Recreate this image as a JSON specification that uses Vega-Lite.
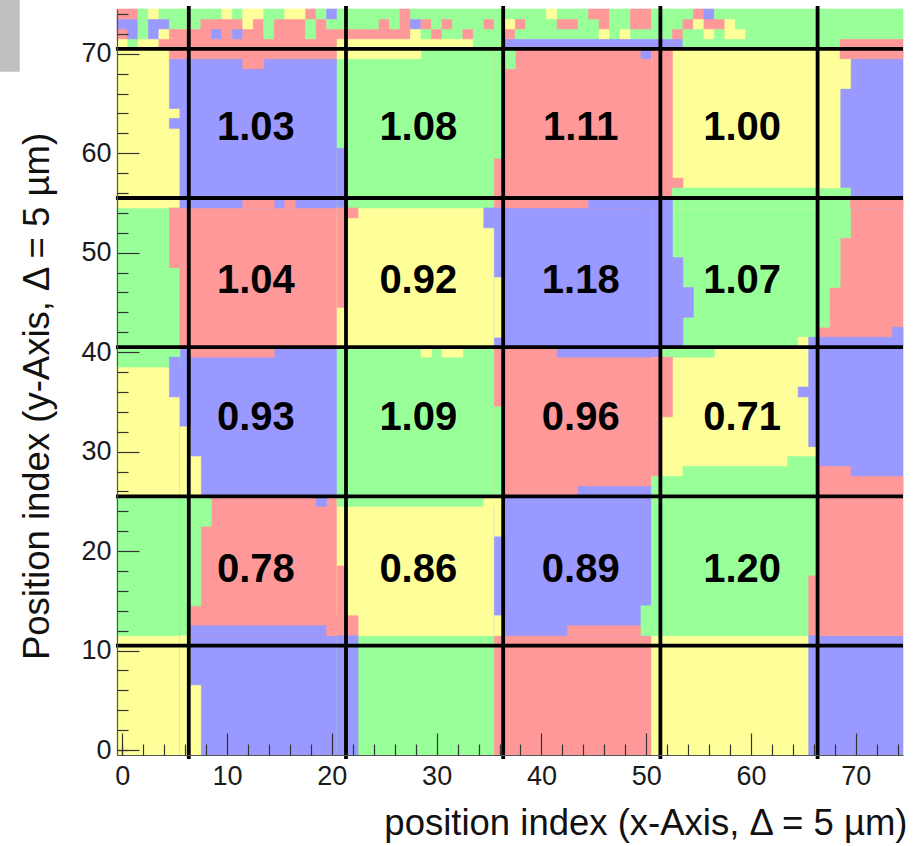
{
  "$schema": "https://vega.github.io/schema/vega-lite/v6.json",
  "width": 786,
  "height": 746,
  "autosize": {"type": "none"},
  "padding": {"left": 117, "top": 9, "right": 12, "bottom": 91},
  "background": "white",
  "config": {"view": {"stroke": null}},
  "datasets": {
    "cells": [
      {"x0": -0.5, "x1": 5.5, "y0": -0.5, "y1": 11.5, "c": "Y"},
      {"x0": 5.5, "x1": 20.5, "y0": -0.5, "y1": 11.5, "c": "B"},
      {"x0": 20.5, "x1": 35.5, "y0": -0.5, "y1": 11.5, "c": "G"},
      {"x0": 35.5, "x1": 50.5, "y0": -0.5, "y1": 11.5, "c": "R"},
      {"x0": 50.5, "x1": 66.5, "y0": -0.5, "y1": 11.5, "c": "Y"},
      {"x0": 66.5, "x1": 74.5, "y0": -0.5, "y1": 11.5, "c": "B"},
      {"x0": -0.5, "x1": 5.5, "y0": 11.5, "y1": 25.5, "c": "G"},
      {"x0": 5.5, "x1": 20.5, "y0": 11.5, "y1": 25.5, "c": "R"},
      {"x0": 20.5, "x1": 35.5, "y0": 11.5, "y1": 25.5, "c": "Y"},
      {"x0": 35.5, "x1": 50.5, "y0": 11.5, "y1": 25.5, "c": "B"},
      {"x0": 50.5, "x1": 66.5, "y0": 11.5, "y1": 25.5, "c": "G"},
      {"x0": 66.5, "x1": 74.5, "y0": 11.5, "y1": 25.5, "c": "R"},
      {"x0": -0.5, "x1": 5.5, "y0": 25.5, "y1": 40.5, "c": "Y"},
      {"x0": 5.5, "x1": 20.5, "y0": 25.5, "y1": 40.5, "c": "B"},
      {"x0": 20.5, "x1": 35.5, "y0": 25.5, "y1": 40.5, "c": "G"},
      {"x0": 35.5, "x1": 50.5, "y0": 25.5, "y1": 40.5, "c": "R"},
      {"x0": 50.5, "x1": 66.5, "y0": 25.5, "y1": 40.5, "c": "Y"},
      {"x0": 66.5, "x1": 74.5, "y0": 25.5, "y1": 40.5, "c": "B"},
      {"x0": -0.5, "x1": 5.5, "y0": 40.5, "y1": 54.5, "c": "G"},
      {"x0": 5.5, "x1": 20.5, "y0": 40.5, "y1": 54.5, "c": "R"},
      {"x0": 20.5, "x1": 35.5, "y0": 40.5, "y1": 54.5, "c": "Y"},
      {"x0": 35.5, "x1": 50.5, "y0": 40.5, "y1": 54.5, "c": "B"},
      {"x0": 50.5, "x1": 66.5, "y0": 40.5, "y1": 54.5, "c": "G"},
      {"x0": 66.5, "x1": 74.5, "y0": 40.5, "y1": 54.5, "c": "R"},
      {"x0": -0.5, "x1": 5.5, "y0": 54.5, "y1": 70.5, "c": "Y"},
      {"x0": 5.5, "x1": 20.5, "y0": 54.5, "y1": 70.5, "c": "B"},
      {"x0": 20.5, "x1": 35.5, "y0": 54.5, "y1": 70.5, "c": "G"},
      {"x0": 35.5, "x1": 50.5, "y0": 54.5, "y1": 70.5, "c": "R"},
      {"x0": 50.5, "x1": 66.5, "y0": 54.5, "y1": 70.5, "c": "Y"},
      {"x0": 66.5, "x1": 74.5, "y0": 54.5, "y1": 70.5, "c": "B"},

      {"x0": 4.5, "x1": 5.5, "y0": 64.5, "y1": 69.5, "c": "B"},
      {"x0": 4.5, "x1": 5.5, "y0": 62.5, "y1": 63.5, "c": "B"},
      {"x0": 4.5, "x1": 20.5, "y0": 69.5, "y1": 70.5, "c": "R"},
      {"x0": 11.5, "x1": 13.5, "y0": 68.5, "y1": 69.5, "c": "R"},
      {"x0": 11.5, "x1": 14.5, "y0": 54.5, "y1": 55.5, "c": "R"},
      {"x0": 15.5, "x1": 16.5, "y0": 54.5, "y1": 55.5, "c": "R"},
      {"x0": 20.5, "x1": 21.5, "y0": 54.5, "y1": 60.5, "c": "B"},
      {"x0": 20.5, "x1": 28.5, "y0": 69.5, "y1": 70.5, "c": "Y"},
      {"x0": 4.5, "x1": 5.5, "y0": 48.5, "y1": 54.5, "c": "R"},
      {"x0": 20.5, "x1": 21.5, "y0": 44.5, "y1": 54.5, "c": "R"},
      {"x0": 21.5, "x1": 22.5, "y0": 53.5, "y1": 54.5, "c": "R"},
      {"x0": -0.5, "x1": 5.5, "y0": 38.5, "y1": 40.5, "c": "G"},
      {"x0": 4.5, "x1": 5.5, "y0": 35.5, "y1": 39.5, "c": "B"},
      {"x0": 5.5, "x1": 6.5, "y0": 25.5, "y1": 32.5, "c": "Y"},
      {"x0": 6.5, "x1": 7.5, "y0": 25.5, "y1": 29.5, "c": "Y"},
      {"x0": 6.5, "x1": 14.5, "y0": 39.5, "y1": 40.5, "c": "R"},
      {"x0": 5.5, "x1": 6.5, "y0": 11.5, "y1": 25.5, "c": "G"},
      {"x0": 6.5, "x1": 7.5, "y0": 14.5, "y1": 25.5, "c": "G"},
      {"x0": 7.5, "x1": 8.5, "y0": 22.5, "y1": 25.5, "c": "G"},
      {"x0": 18.5, "x1": 19.5, "y0": 24.5, "y1": 25.5, "c": "B"},
      {"x0": 6.5, "x1": 19.5, "y0": 11.5, "y1": 12.5, "c": "B"},
      {"x0": 19.5, "x1": 22.5, "y0": 11.5, "y1": 13.5, "c": "R"},
      {"x0": 20.5, "x1": 21.5, "y0": 13.5, "y1": 18.5, "c": "R"},
      {"x0": 20.5, "x1": 34.5, "y0": 24.5, "y1": 25.5, "c": "G"},
      {"x0": 34.5, "x1": 36.5, "y0": 24.5, "y1": 25.5, "c": "Y"},
      {"x0": 5.5, "x1": 6.5, "y0": -0.5, "y1": 11.5, "c": "Y"},
      {"x0": 6.5, "x1": 7.5, "y0": -0.5, "y1": 6.5, "c": "Y"},
      {"x0": 20.5, "x1": 22.5, "y0": -0.5, "y1": 11.5, "c": "B"},
      {"x0": 35.5, "x1": 36.5, "y0": 59.5, "y1": 70.5, "c": "G"},
      {"x0": 36.5, "x1": 37.5, "y0": 68.5, "y1": 70.5, "c": "G"},
      {"x0": 44.5, "x1": 50.5, "y0": 54.5, "y1": 55.5, "c": "B"},
      {"x0": 49.5, "x1": 50.5, "y0": 69.5, "y1": 70.5, "c": "B"},
      {"x0": 34.5, "x1": 36.5, "y0": 52.5, "y1": 54.5, "c": "B"},
      {"x0": 35.5, "x1": 36.5, "y0": 41.5, "y1": 47.5, "c": "Y"},
      {"x0": 35.5, "x1": 36.5, "y0": 25.5, "y1": 34.5, "c": "G"},
      {"x0": 28.5, "x1": 29.5, "y0": 39.5, "y1": 40.5, "c": "Y"},
      {"x0": 30.5, "x1": 32.5, "y0": 39.5, "y1": 40.5, "c": "Y"},
      {"x0": 41.5, "x1": 51.5, "y0": 39.5, "y1": 40.5, "c": "B"},
      {"x0": 43.5, "x1": 50.5, "y0": 25.5, "y1": 26.5, "c": "B"},
      {"x0": 35.5, "x1": 36.5, "y0": 11.5, "y1": 13.5, "c": "Y"},
      {"x0": 35.5, "x1": 36.5, "y0": 21.5, "y1": 24.5, "c": "Y"},
      {"x0": 42.5, "x1": 49.5, "y0": 11.5, "y1": 12.5, "c": "R"},
      {"x0": 49.5, "x1": 50.5, "y0": 11.5, "y1": 14.5, "c": "G"},
      {"x0": 50.5, "x1": 52.5, "y0": 55.5, "y1": 70.5, "c": "R"},
      {"x0": 52.5, "x1": 53.5, "y0": 56.5, "y1": 57.5, "c": "R"},
      {"x0": 52.5, "x1": 69.5, "y0": 54.5, "y1": 56.5, "c": "G"},
      {"x0": 49.5, "x1": 52.5, "y0": 54.5, "y1": 55.5, "c": "B"},
      {"x0": 69.5, "x1": 74.5, "y0": 54.5, "y1": 55.5, "c": "R"},
      {"x0": 66.5, "x1": 68.5, "y0": 56.5, "y1": 70.5, "c": "Y"},
      {"x0": 68.5, "x1": 69.5, "y0": 66.5, "y1": 69.5, "c": "Y"},
      {"x0": 68.5, "x1": 74.5, "y0": 69.5, "y1": 70.5, "c": "R"},
      {"x0": 50.5, "x1": 52.5, "y0": 40.5, "y1": 54.5, "c": "B"},
      {"x0": 52.5, "x1": 53.5, "y0": 40.5, "y1": 49.5, "c": "B"},
      {"x0": 53.5, "x1": 54.5, "y0": 43.5, "y1": 46.5, "c": "B"},
      {"x0": 66.5, "x1": 68.5, "y0": 46.5, "y1": 54.5, "c": "G"},
      {"x0": 68.5, "x1": 69.5, "y0": 51.5, "y1": 54.5, "c": "G"},
      {"x0": 66.5, "x1": 67.5, "y0": 42.5, "y1": 46.5, "c": "G"},
      {"x0": 73.5, "x1": 74.5, "y0": 41.5, "y1": 42.5, "c": "B"},
      {"x0": 64.5, "x1": 65.5, "y0": 40.5, "y1": 41.5, "c": "Y"},
      {"x0": 65.5, "x1": 74.5, "y0": 40.5, "y1": 41.5, "c": "B"},
      {"x0": 51.5, "x1": 56.5, "y0": 39.5, "y1": 40.5, "c": "G"},
      {"x0": 65.5, "x1": 66.5, "y0": 30.5, "y1": 40.5, "c": "B"},
      {"x0": 64.5, "x1": 65.5, "y0": 35.5, "y1": 36.5, "c": "B"},
      {"x0": 50.5, "x1": 51.5, "y0": 27.5, "y1": 39.5, "c": "R"},
      {"x0": 51.5, "x1": 52.5, "y0": 33.5, "y1": 39.5, "c": "R"},
      {"x0": 50.5, "x1": 66.5, "y0": 25.5, "y1": 27.5, "c": "G"},
      {"x0": 53.5, "x1": 66.5, "y0": 27.5, "y1": 28.5, "c": "G"},
      {"x0": 63.5, "x1": 66.5, "y0": 28.5, "y1": 29.5, "c": "G"},
      {"x0": 66.5, "x1": 69.5, "y0": 27.5, "y1": 28.5, "c": "R"},
      {"x0": 66.5, "x1": 74.5, "y0": 25.5, "y1": 27.5, "c": "R"},
      {"x0": 65.5, "x1": 66.5, "y0": 11.5, "y1": 17.5, "c": "R"},
      {"x0": 65.5, "x1": 66.5, "y0": -0.5, "y1": 11.5, "c": "B"},

      {"x0": -0.5, "x1": 0.5, "y0": 70.5, "y1": 71.5, "c": "Y"},
      {"x0": 0.5, "x1": 1.5, "y0": 70.5, "y1": 71.5, "c": "G"},
      {"x0": 1.5, "x1": 3.5, "y0": 70.5, "y1": 71.5, "c": "Y"},
      {"x0": 3.5, "x1": 20.5, "y0": 70.5, "y1": 71.5, "c": "R"},
      {"x0": 20.5, "x1": 33.5, "y0": 70.5, "y1": 71.5, "c": "Y"},
      {"x0": 33.5, "x1": 36.5, "y0": 70.5, "y1": 71.5, "c": "G"},
      {"x0": 36.5, "x1": 53.5, "y0": 70.5, "y1": 71.5, "c": "B"},
      {"x0": 53.5, "x1": 68.5, "y0": 70.5, "y1": 71.5, "c": "G"},
      {"x0": 68.5, "x1": 74.5, "y0": 70.5, "y1": 71.5, "c": "R"},

      {"x0": -0.5, "x1": 0.5, "y0": 71.5, "y1": 72.5, "c": "R"},
      {"x0": 0.5, "x1": 1.5, "y0": 71.5, "y1": 72.5, "c": "B"},
      {"x0": 1.5, "x1": 2.5, "y0": 71.5, "y1": 72.5, "c": "G"},
      {"x0": 2.5, "x1": 3.5, "y0": 71.5, "y1": 72.5, "c": "B"},
      {"x0": 3.5, "x1": 4.5, "y0": 71.5, "y1": 72.5, "c": "Y"},
      {"x0": 4.5, "x1": 8.5, "y0": 71.5, "y1": 72.5, "c": "R"},
      {"x0": 8.5, "x1": 9.5, "y0": 71.5, "y1": 72.5, "c": "B"},
      {"x0": 9.5, "x1": 10.5, "y0": 71.5, "y1": 72.5, "c": "R"},
      {"x0": 10.5, "x1": 11.5, "y0": 71.5, "y1": 72.5, "c": "B"},
      {"x0": 11.5, "x1": 13.5, "y0": 71.5, "y1": 72.5, "c": "R"},
      {"x0": 13.5, "x1": 14.5, "y0": 71.5, "y1": 72.5, "c": "G"},
      {"x0": 14.5, "x1": 17.5, "y0": 71.5, "y1": 72.5, "c": "R"},
      {"x0": 17.5, "x1": 18.5, "y0": 71.5, "y1": 72.5, "c": "G"},
      {"x0": 18.5, "x1": 27.5, "y0": 71.5, "y1": 72.5, "c": "R"},
      {"x0": 27.5, "x1": 28.5, "y0": 71.5, "y1": 72.5, "c": "Y"},
      {"x0": 28.5, "x1": 29.5, "y0": 71.5, "y1": 72.5, "c": "G"},
      {"x0": 29.5, "x1": 30.5, "y0": 71.5, "y1": 72.5, "c": "R"},
      {"x0": 30.5, "x1": 32.5, "y0": 71.5, "y1": 72.5, "c": "G"},
      {"x0": 32.5, "x1": 33.5, "y0": 71.5, "y1": 72.5, "c": "R"},
      {"x0": 33.5, "x1": 36.5, "y0": 71.5, "y1": 72.5, "c": "G"},
      {"x0": 36.5, "x1": 37.5, "y0": 71.5, "y1": 72.5, "c": "R"},
      {"x0": 37.5, "x1": 45.5, "y0": 71.5, "y1": 72.5, "c": "G"},
      {"x0": 45.5, "x1": 46.5, "y0": 71.5, "y1": 72.5, "c": "Y"},
      {"x0": 46.5, "x1": 47.5, "y0": 71.5, "y1": 72.5, "c": "G"},
      {"x0": 47.5, "x1": 48.5, "y0": 71.5, "y1": 72.5, "c": "Y"},
      {"x0": 48.5, "x1": 52.5, "y0": 71.5, "y1": 72.5, "c": "G"},
      {"x0": 52.5, "x1": 53.5, "y0": 71.5, "y1": 72.5, "c": "R"},
      {"x0": 53.5, "x1": 55.5, "y0": 71.5, "y1": 72.5, "c": "G"},
      {"x0": 55.5, "x1": 56.5, "y0": 71.5, "y1": 72.5, "c": "Y"},
      {"x0": 56.5, "x1": 57.5, "y0": 71.5, "y1": 72.5, "c": "G"},
      {"x0": 57.5, "x1": 59.5, "y0": 71.5, "y1": 72.5, "c": "Y"},
      {"x0": 59.5, "x1": 74.5, "y0": 71.5, "y1": 72.5, "c": "G"},

      {"x0": -0.5, "x1": 1.5, "y0": 72.5, "y1": 73.5, "c": "B"},
      {"x0": 1.5, "x1": 2.5, "y0": 72.5, "y1": 73.5, "c": "G"},
      {"x0": 2.5, "x1": 4.5, "y0": 72.5, "y1": 73.5, "c": "B"},
      {"x0": 4.5, "x1": 7.5, "y0": 72.5, "y1": 73.5, "c": "G"},
      {"x0": 7.5, "x1": 11.5, "y0": 72.5, "y1": 73.5, "c": "R"},
      {"x0": 11.5, "x1": 12.5, "y0": 72.5, "y1": 73.5, "c": "Y"},
      {"x0": 12.5, "x1": 13.5, "y0": 72.5, "y1": 73.5, "c": "R"},
      {"x0": 13.5, "x1": 14.5, "y0": 72.5, "y1": 73.5, "c": "G"},
      {"x0": 14.5, "x1": 17.5, "y0": 72.5, "y1": 73.5, "c": "R"},
      {"x0": 17.5, "x1": 18.5, "y0": 72.5, "y1": 73.5, "c": "G"},
      {"x0": 18.5, "x1": 19.5, "y0": 72.5, "y1": 73.5, "c": "R"},
      {"x0": 19.5, "x1": 24.5, "y0": 72.5, "y1": 73.5, "c": "G"},
      {"x0": 24.5, "x1": 25.5, "y0": 72.5, "y1": 73.5, "c": "R"},
      {"x0": 25.5, "x1": 26.5, "y0": 72.5, "y1": 73.5, "c": "G"},
      {"x0": 26.5, "x1": 27.5, "y0": 72.5, "y1": 73.5, "c": "R"},
      {"x0": 27.5, "x1": 28.5, "y0": 72.5, "y1": 73.5, "c": "B"},
      {"x0": 28.5, "x1": 29.5, "y0": 72.5, "y1": 73.5, "c": "R"},
      {"x0": 29.5, "x1": 30.5, "y0": 72.5, "y1": 73.5, "c": "G"},
      {"x0": 30.5, "x1": 31.5, "y0": 72.5, "y1": 73.5, "c": "R"},
      {"x0": 31.5, "x1": 34.5, "y0": 72.5, "y1": 73.5, "c": "G"},
      {"x0": 34.5, "x1": 35.5, "y0": 72.5, "y1": 73.5, "c": "R"},
      {"x0": 35.5, "x1": 36.5, "y0": 72.5, "y1": 73.5, "c": "G"},
      {"x0": 36.5, "x1": 37.5, "y0": 72.5, "y1": 73.5, "c": "Y"},
      {"x0": 37.5, "x1": 38.5, "y0": 72.5, "y1": 73.5, "c": "R"},
      {"x0": 38.5, "x1": 41.5, "y0": 72.5, "y1": 73.5, "c": "G"},
      {"x0": 41.5, "x1": 43.5, "y0": 72.5, "y1": 73.5, "c": "R"},
      {"x0": 43.5, "x1": 45.5, "y0": 72.5, "y1": 73.5, "c": "G"},
      {"x0": 45.5, "x1": 46.5, "y0": 72.5, "y1": 73.5, "c": "R"},
      {"x0": 46.5, "x1": 48.5, "y0": 72.5, "y1": 73.5, "c": "G"},
      {"x0": 48.5, "x1": 50.5, "y0": 72.5, "y1": 73.5, "c": "R"},
      {"x0": 50.5, "x1": 53.5, "y0": 72.5, "y1": 73.5, "c": "G"},
      {"x0": 53.5, "x1": 54.5, "y0": 72.5, "y1": 73.5, "c": "R"},
      {"x0": 54.5, "x1": 55.5, "y0": 72.5, "y1": 73.5, "c": "Y"},
      {"x0": 55.5, "x1": 57.5, "y0": 72.5, "y1": 73.5, "c": "R"},
      {"x0": 57.5, "x1": 58.5, "y0": 72.5, "y1": 73.5, "c": "Y"},
      {"x0": 58.5, "x1": 74.5, "y0": 72.5, "y1": 73.5, "c": "G"},

      {"x0": -0.5, "x1": 1.5, "y0": 73.5, "y1": 74.5, "c": "R"},
      {"x0": 1.5, "x1": 2.5, "y0": 73.5, "y1": 74.5, "c": "G"},
      {"x0": 2.5, "x1": 3.5, "y0": 73.5, "y1": 74.5, "c": "Y"},
      {"x0": 3.5, "x1": 9.5, "y0": 73.5, "y1": 74.5, "c": "G"},
      {"x0": 9.5, "x1": 10.5, "y0": 73.5, "y1": 74.5, "c": "Y"},
      {"x0": 10.5, "x1": 11.5, "y0": 73.5, "y1": 74.5, "c": "G"},
      {"x0": 11.5, "x1": 13.5, "y0": 73.5, "y1": 74.5, "c": "Y"},
      {"x0": 13.5, "x1": 15.5, "y0": 73.5, "y1": 74.5, "c": "G"},
      {"x0": 15.5, "x1": 17.5, "y0": 73.5, "y1": 74.5, "c": "Y"},
      {"x0": 17.5, "x1": 18.5, "y0": 73.5, "y1": 74.5, "c": "R"},
      {"x0": 18.5, "x1": 19.5, "y0": 73.5, "y1": 74.5, "c": "G"},
      {"x0": 19.5, "x1": 20.5, "y0": 73.5, "y1": 74.5, "c": "B"},
      {"x0": 20.5, "x1": 26.5, "y0": 73.5, "y1": 74.5, "c": "G"},
      {"x0": 26.5, "x1": 27.5, "y0": 73.5, "y1": 74.5, "c": "R"},
      {"x0": 27.5, "x1": 40.5, "y0": 73.5, "y1": 74.5, "c": "G"},
      {"x0": 40.5, "x1": 41.5, "y0": 73.5, "y1": 74.5, "c": "Y"},
      {"x0": 41.5, "x1": 44.5, "y0": 73.5, "y1": 74.5, "c": "G"},
      {"x0": 44.5, "x1": 46.5, "y0": 73.5, "y1": 74.5, "c": "R"},
      {"x0": 46.5, "x1": 48.5, "y0": 73.5, "y1": 74.5, "c": "G"},
      {"x0": 48.5, "x1": 50.5, "y0": 73.5, "y1": 74.5, "c": "R"},
      {"x0": 50.5, "x1": 54.5, "y0": 73.5, "y1": 74.5, "c": "G"},
      {"x0": 54.5, "x1": 55.5, "y0": 73.5, "y1": 74.5, "c": "R"},
      {"x0": 55.5, "x1": 56.5, "y0": 73.5, "y1": 74.5, "c": "B"},
      {"x0": 56.5, "x1": 74.5, "y0": 73.5, "y1": 74.5, "c": "G"}
    ],
    "vals": [
      {"lx": 12.75, "ly": 61.3, "v": 1.03},
      {"lx": 28.25, "ly": 61.3, "v": 1.08},
      {"lx": 43.75, "ly": 61.3, "v": 1.11},
      {"lx": 59.15, "ly": 61.3, "v": 1.00},
      {"lx": 12.75, "ly": 45.9, "v": 1.04},
      {"lx": 28.25, "ly": 45.9, "v": 0.92},
      {"lx": 43.75, "ly": 45.9, "v": 1.18},
      {"lx": 59.15, "ly": 45.9, "v": 1.07},
      {"lx": 12.75, "ly": 32.2, "v": 0.93},
      {"lx": 28.25, "ly": 32.2, "v": 1.09},
      {"lx": 43.75, "ly": 32.2, "v": 0.96},
      {"lx": 59.15, "ly": 32.2, "v": 0.71},
      {"lx": 12.75, "ly": 16.9, "v": 0.78},
      {"lx": 28.25, "ly": 16.9, "v": 0.86},
      {"lx": 43.75, "ly": 16.9, "v": 0.89},
      {"lx": 59.15, "ly": 16.9, "v": 1.20}
    ]
  },
  "resolve": {"axis": {"x": "independent", "y": "independent"}},
  "layer": [
    {
      "data": {"name": "cells"},
      "mark": {"type": "rect", "strokeWidth": 0.6},
      "encoding": {
        "x": {
          "field": "x0", "type": "quantitative",
          "scale": {"domain": [-0.5, 74.5], "nice": false, "zero": false},
          "axis": {
            "orient": "bottom",
            "values": [0, 10, 20, 30, 40, 50, 60, 70],
            "tickSize": -22,
            "tickColor": "#333333", "tickWidth": 1.2,
            "domainColor": "#555555", "domainWidth": 1.2,
            "labelFont": "Liberation Sans", "labelFontSize": 27, "labelColor": "#1a1a1a",
            "labelPadding": 30, "labelOverlap": false, "labelFlush": false,
            "grid": false, "zindex": 2,
            "title": "position index (x-Axis, Δ = 5 µm)",
            "titleFont": "Liberation Sans", "titleFontSize": 36.5, "titleFontWeight": "normal", "titleColor": "#111111",
            "titleAlign": "right", "titleAnchor": "end", "titleBaseline": "alphabetic",
            "titleX": 790, "titleY": 79
          }
        },
        "x2": {"field": "x1"},
        "y": {
          "field": "y0", "type": "quantitative",
          "scale": {"domain": [-0.5, 74.5], "nice": false, "zero": false},
          "axis": {
            "orient": "left",
            "values": [0, 10, 20, 30, 40, 50, 60, 70],
            "tickSize": -22,
            "tickColor": "#333333", "tickWidth": 1.2,
            "domainColor": "#555555", "domainWidth": 1.2,
            "labelFont": "Liberation Sans", "labelFontSize": 27, "labelColor": "#1a1a1a",
            "labelPadding": 28, "labelOverlap": false, "labelFlush": false,
            "labelBaseline": "middle",
            "grid": false, "zindex": 2,
            "title": "Position index (y-Axis, Δ = 5 µm)",
            "titleFont": "Liberation Sans", "titleFontSize": 36.5, "titleFontWeight": "normal", "titleColor": "#111111",
            "titleAngle": 270, "titleAlign": "center", "titleBaseline": "alphabetic",
            "titleX": -69, "titleY": 387
          }
        },
        "y2": {"field": "y1"},
        "color": {
          "field": "c", "type": "nominal",
          "scale": {"domain": ["Y", "G", "R", "B"], "range": ["#ffff99", "#99ff99", "#ff9999", "#9999ff"]},
          "legend": null
        },
        "stroke": {
          "field": "c", "type": "nominal",
          "scale": {"domain": ["Y", "G", "R", "B"], "range": ["#ffff99", "#99ff99", "#ff9999", "#9999ff"]},
          "legend": null
        }
      }
    },
    {
      "data": {"values": [{"gx": 6.35}, {"gx": 21.35}, {"gx": 36.35}, {"gx": 51.35}, {"gx": 66.35}]},
      "mark": {"type": "rule", "color": "black", "strokeWidth": 3.8, "clip": false},
      "encoding": {
        "x": {
          "field": "gx", "type": "quantitative",
          "scale": {"domain": [-0.5, 74.5], "nice": false, "zero": false},
          "axis": {
            "orient": "bottom",
            "values": [0, 2, 4, 6, 8, 12, 14, 16, 18, 22, 24, 26, 28, 32, 34, 36, 38, 42, 44, 46, 48, 52, 54, 56, 58, 62, 64, 66, 68, 72, 74],
            "tickSize": -11, "tickColor": "#333333", "tickWidth": 1.2,
            "labels": false, "domain": false, "grid": false, "title": null, "zindex": 2
          }
        },
        "y": {"datum": -0.9, "type": "quantitative", "scale": {"domain": [-0.5, 74.5], "nice": false, "zero": false}, "axis": null},
        "y2": {"datum": 74.8}
      }
    },
    {
      "data": {"values": [{"gy": 10.5}, {"gy": 25.5}, {"gy": 40.5}, {"gy": 55.5}, {"gy": 70.5}]},
      "mark": {"type": "rule", "color": "black", "strokeWidth": 3.8, "clip": false},
      "encoding": {
        "y": {
          "field": "gy", "type": "quantitative",
          "scale": {"domain": [-0.5, 74.5], "nice": false, "zero": false},
          "axis": {
            "orient": "left",
            "values": [0, 2, 4, 6, 8, 12, 14, 16, 18, 22, 24, 26, 28, 32, 34, 36, 38, 42, 44, 46, 48, 52, 54, 56, 58, 62, 64, 66, 68, 72, 74],
            "tickSize": -11, "tickColor": "#333333", "tickWidth": 1.2,
            "labels": false, "domain": false, "grid": false, "title": null, "zindex": 2
          }
        },
        "x": {"datum": -0.6, "type": "quantitative", "scale": {"domain": [-0.5, 74.5], "nice": false, "zero": false}, "axis": null},
        "x2": {"datum": 74.5}
      }
    },
    {
      "data": {"name": "vals"},
      "mark": {"type": "text", "font": "Liberation Sans", "fontSize": 40, "fontWeight": "bold", "align": "center", "baseline": "alphabetic", "color": "#000000"},
      "encoding": {
        "x": {"field": "lx", "type": "quantitative", "scale": {"domain": [-0.5, 74.5], "nice": false, "zero": false}, "axis": null},
        "y": {"field": "ly", "type": "quantitative", "scale": {"domain": [-0.5, 74.5], "nice": false, "zero": false}, "axis": null},
        "text": {"field": "v", "type": "quantitative", "format": ".2f"}
      }
    },
    {
      "data": {"values": [{"bx0": -11.7, "bx1": -9.78, "by0": 68.2, "by1": 75.5}]},
      "mark": {"type": "rect", "color": "#bfbfbf", "clip": false},
      "encoding": {
        "x": {"field": "bx0", "type": "quantitative", "scale": {"domain": [-0.5, 74.5], "nice": false, "zero": false}, "axis": null},
        "x2": {"field": "bx1"},
        "y": {"field": "by0", "type": "quantitative", "scale": {"domain": [-0.5, 74.5], "nice": false, "zero": false}, "axis": null},
        "y2": {"field": "by1"}
      }
    }
  ]
}
